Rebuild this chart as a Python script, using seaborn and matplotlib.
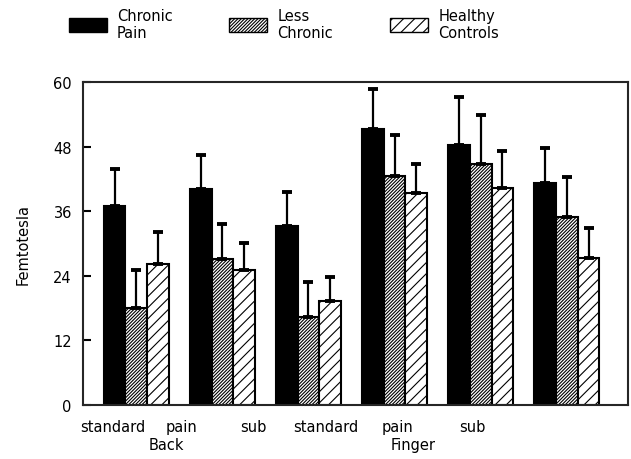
import numpy as np
import pandas as pd
import seaborn as sns
import matplotlib.pyplot as plt
from matplotlib.patches import Patch

# data
conditions = ["Back standard", "Back pain", "Back sub",
              "Finger standard", "Finger pain", "Finger sub"]
tick_labels = ["standard", "pain", "sub", "standard", "pain", "sub"]
groups = ["Chronic\nPain", "Less\nChronic", "Healthy\nControls"]

chronic = [37.0, 40.1, 33.3, 51.3, 48.3, 41.3]
chronic_err = [6.8, 6.3, 6.2, 7.4, 9.0, 6.5]
less = [18.0, 27.1, 16.3, 42.6, 44.7, 34.9]
less_err = [7.1, 6.5, 6.5, 7.6, 9.2, 7.4]
healthy = [26.2, 25.1, 19.3, 39.3, 40.3, 27.3]
healthy_err = [5.9, 5.0, 4.4, 5.4, 6.9, 5.5]

values = [chronic, less, healthy]
errors = [chronic_err, less_err, healthy_err]

df = pd.DataFrame({
    "condition": conditions * 3,
    "group": [g for g in groups for _ in conditions],
    "value": chronic + less + healthy,
})

# layout
label_x = [-0.27, 0.53, 1.36, 2.2, 3.03, 3.9]
region_labels = ["Back", "Finger"]
region_x = [0.35, 3.22]
hatches = ["", "//////////", "///"]
colors = ["black", "white", "white"]

sns.set_style("ticks")
plt.rcParams["font.family"] = ["DejaVu Sans"]
plt.rcParams["hatch.linewidth"] = 0.8
plt.rcParams["text.color"] = "black"
plt.rcParams["axes.labelcolor"] = "black"
plt.rcParams["xtick.color"] = "black"
plt.rcParams["ytick.color"] = "black"

fig, ax = plt.subplots(figsize=(6.31, 4.6), dpi=100)
fig.subplots_adjust(left=0.1315, right=0.995, bottom=0.1174, top=0.8196)

sns.barplot(data=df, x="condition", y="value", hue="group", order=conditions,
            hue_order=groups, palette=colors, width=0.76, edgecolor="black",
            linewidth=1.5, errorbar=None, legend=False, ax=ax)

for cont, h, vals, errs in zip(ax.containers, hatches, values, errors):
    xs = []
    for p in cont.patches:
        p.set_hatch(h)
        xs.append(p.get_x() + p.get_width() / 2)
    ax.errorbar(xs, vals, yerr=[np.zeros(len(errs)), errs], fmt="none",
                ecolor="black", elinewidth=1.6, capsize=3.6, capthick=2.8)

ax.set_xlim(-0.62, 5.71)
ax.set_ylim(0, 60)
ax.set_yticks([0, 12, 24, 36, 48, 60])
ax.set_xticks(label_x)
ax.set_xticklabels(tick_labels, fontsize=10.5)
ax.tick_params(axis="x", length=0, pad=10)
ax.tick_params(axis="y", direction="in", length=6, width=1.5, labelsize=10.5, pad=8)
ax.set_xlabel("")
ax.set_ylabel("Femtotesla", fontsize=10.5, labelpad=16)
for s in ax.spines.values():
    s.set_visible(True)
    s.set_linewidth(1.5)

for name, x in zip(region_labels, region_x):
    ax.text(x, -0.121, name, transform=ax.get_xaxis_transform(),
            ha="center", va="center", fontsize=10.5)

handles = [Patch(facecolor=c, edgecolor="black", hatch=h, linewidth=1.0)
           for c, h in zip(colors, hatches)]
fig.legend(handles, groups, ncol=3, loc="upper left", bbox_to_anchor=(0.088, 1.01),
           frameon=False, fontsize=10.5, handlelength=2.6, handleheight=1.1,
           handletextpad=0.7, columnspacing=3.9)

plt.savefig("out.png", dpi=100)
